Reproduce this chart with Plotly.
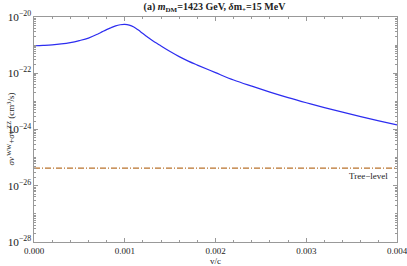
import plotly.graph_objects as go

v_over_c = [0, 0.0001, 0.0002, 0.0003, 0.0004, 0.0005, 0.0006, 0.0007, 0.00075, 0.0008,
            0.00085, 0.0009, 0.00095, 0.001, 0.00105, 0.0011, 0.00115, 0.0012, 0.00125,
            0.0013, 0.0014, 0.0015, 0.0016, 0.0017, 0.0018, 0.002, 0.0022, 0.0024, 0.0026,
            0.0028, 0.003, 0.0032, 0.0034, 0.0036, 0.0038, 0.004]
sigma_v = [9.5e-22, 9.8e-22, 1.02e-21, 1.10e-21, 1.23e-21, 1.45e-21, 1.78e-21, 2.45e-21,
           2.95e-21, 3.55e-21, 4.17e-21, 4.85e-21, 5.30e-21, 5.45e-21, 5.15e-21, 4.40e-21,
           3.42e-21, 2.57e-21, 1.95e-21, 1.48e-21, 9.3e-22, 5.9e-22, 3.9e-22, 2.7e-22,
           1.95e-22, 1.05e-22, 5.75e-23, 3.47e-23, 2.14e-23, 1.36e-23, 8.95e-24, 6.03e-24,
           4.13e-24, 2.87e-24, 2.02e-24, 1.45e-24]
tree_level_x = [0, 0.004]
tree_level = [4.2e-26, 4.2e-26]

serif = "Liberation Serif, Times New Roman, serif"
fig = go.Figure()
fig.add_trace(go.Scatter(x=v_over_c, y=sigma_v, mode="lines",
                         line=dict(color="rgb(45,45,240)", width=1.2, shape="spline", smoothing=1.0),
                         showlegend=False, hoverinfo="skip"))
fig.add_trace(go.Scatter(x=tree_level_x, y=tree_level, mode="lines",
                         line=dict(color="rgb(185,115,45)", width=1.2, dash="6px,2px,1px,2px"),
                         showlegend=False, hoverinfo="skip"))

fig.add_annotation(x=0.00392, y=-25.66, xref="x", yref="y", text="Tree\u2212level", showarrow=False,
                   xanchor="right", yanchor="middle", font=dict(family=serif, size=9, color="#222"))
fig.add_annotation(x=-0.066, y=0.5, xref="paper", yref="paper",
                   text="<i>σv</i><sup> WW</sup>+<i>σv</i><sup> ZZ</sup> (cm<sup>3</sup>/s)",
                   showarrow=False, textangle=-90, xanchor="center", yanchor="middle",
                   font=dict(family=serif, size=9, color="#222"))

fig.update_layout(
    width=407, height=266,
    margin=dict(l=34, r=10, t=17, b=24),
    paper_bgcolor="white", plot_bgcolor="white",
    title=dict(text="<b>(a) <i>m</i><sub>DM</sub>=1423 GeV, <i>δ</i>m<sub>+</sub>=15 MeV</b>",
               x=0.527, xanchor="center", y=0.99, yanchor="top", font=dict(family=serif, size=10, color="#222")),
    font=dict(family=serif, size=9, color="#222"),
)
fig.update_xaxes(range=[0, 0.004], tickvals=[0, 0.001, 0.002, 0.003, 0.004], tickformat=".3f",
                 showline=True, linecolor="#999", linewidth=1, mirror="ticks", ticks="inside", ticklen=4,
                 tickcolor="#999", showgrid=False, zeroline=False, automargin=False,
                 ticklabeloverflow="allow",
                 minor=dict(ticks="inside", ticklen=2, dtick=0.0002, tickcolor="#999"),
                 title=dict(text="v/c", font=dict(family=serif, size=9), standoff=0),
                 tickfont=dict(family=serif, size=9, color="#222"))
fig.update_yaxes(type="log", range=[-28, -20], dtick=2, exponentformat="power",
                 showline=True, linecolor="#999", linewidth=1, mirror="ticks", ticks="inside", ticklen=4,
                 tickcolor="#999", showgrid=False, zeroline=False, automargin=False,
                 ticklabeloverflow="allow",
                 minor=dict(ticks="inside", ticklen=2, dtick="D1", tickcolor="#999"),
                 tickfont=dict(family=serif, size=9, color="#222"))
fig.write_html("out.html", config={"displayModeBar": False},
               post_script="document.body.style.margin='0';document.body.style.padding='0';")
